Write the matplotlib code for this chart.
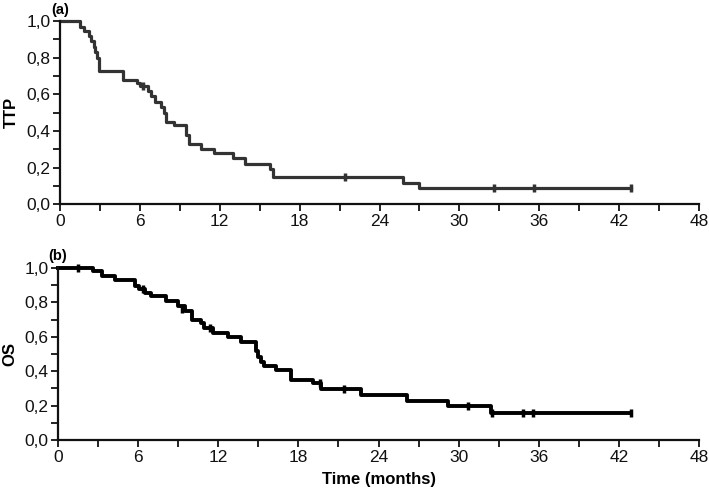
import matplotlib
matplotlib.use('Agg')
import matplotlib.pyplot as plt
from matplotlib.ticker import MultipleLocator, FuncFormatter

plt.rcParams['font.family'] = ['Liberation Sans', 'DejaVu Sans']

# TTP curve: step times (months) and survival after each step
ttp_time = [0, 1.5, 1.8, 2.2, 2.35, 2.55, 2.65, 2.75, 2.9, 4.75, 5.75, 6.0, 6.6,
            6.85, 7.1, 7.6, 7.85, 8.0, 8.6, 9.5, 9.7, 10.6, 11.6, 13.0, 13.9,
            15.8, 16.0, 25.75, 27.0, 42.9]
ttp_surv = [1.0, 0.97, 0.945, 0.92, 0.89, 0.86, 0.83, 0.80, 0.73, 0.68, 0.66, 0.645,
            0.62, 0.59, 0.56, 0.53, 0.50, 0.45, 0.43, 0.38, 0.33, 0.30, 0.28, 0.25,
            0.22, 0.19, 0.15, 0.115, 0.086, 0.086]
ttp_cens_time = [6.25, 21.4, 32.6, 35.6, 42.9]
ttp_cens_surv = [0.645, 0.15, 0.086, 0.086, 0.086]

# OS curve
os_time = [0, 2.65, 3.3, 4.3, 5.8, 6.1, 6.5, 7.0, 8.1, 9.0, 9.5, 10.0, 10.7, 10.9,
           11.6, 12.7, 13.7, 14.85, 15.0, 15.2, 15.4, 16.3, 17.45, 19.1, 19.7,
           22.7, 26.1, 29.2, 32.4, 42.9]
os_surv = [1.0, 0.98, 0.955, 0.93, 0.895, 0.875, 0.855, 0.835, 0.805, 0.78, 0.75,
           0.70, 0.68, 0.65, 0.62, 0.60, 0.567, 0.52, 0.485, 0.456, 0.43, 0.404,
           0.35, 0.33, 0.295, 0.263, 0.229, 0.20, 0.157, 0.157]
os_cens_time = [1.5, 6.4, 9.3, 11.4, 19.6, 21.4, 30.7, 32.5, 34.8, 35.6, 42.9]
os_cens_surv = [1.0, 0.875, 0.76, 0.65, 0.33, 0.295, 0.20, 0.157, 0.157, 0.157, 0.157]

x_ticks = [0, 6, 12, 18, 24, 30, 36, 42, 48]
y_ticks = [0.0, 0.2, 0.4, 0.6, 0.8, 1.0]

fig = plt.figure(figsize=(7.09, 4.93), dpi=100)
ax1 = fig.add_axes([0.0846, 0.586, 0.9014, 0.371])
ax2 = fig.add_axes([0.0818, 0.1075, 0.9042, 0.349])


def style(ax, ylabel, tag, tag_y):
    ax.set_xlim(0, 48)
    ax.set_ylim(0, 1.0)
    ax.set_xticks(x_ticks)
    ax.set_yticks(y_ticks)
    ax.xaxis.set_minor_locator(MultipleLocator(3))
    ax.yaxis.set_minor_locator(MultipleLocator(0.1))
    ax.yaxis.set_major_formatter(FuncFormatter(lambda v, p: f'{v:.1f}'.replace('.', ',')))
    for s in ['top', 'right']:
        ax.spines[s].set_visible(False)
    for s in ['left', 'bottom']:
        ax.spines[s].set_linewidth(1.6)
        ax.spines[s].set_color('#111111')
    ax.tick_params(which='both', direction='out', length=5, width=1.3,
                   labelsize=12.5, colors='#111111', pad=2)
    ax.set_ylabel(ylabel, fontsize=12, fontweight='bold', labelpad=5)
    ax.text(0.0, tag_y, tag, transform=ax.transAxes, fontsize=10.5,
            fontweight='bold', ha='center', va='center')


ax1.step(ttp_time, ttp_surv, where='post', color='#333333', lw=2.3, clip_on=False)
ax1.plot(ttp_cens_time, ttp_cens_surv, ls='none', marker='|', ms=5.5, mew=2.5,
         color='#333333', clip_on=False)
style(ax1, 'TTP', '(a)', 1.06)

ax2.step(os_time, os_surv, where='post', color='black', lw=2.8, clip_on=False)
ax2.plot(os_cens_time, os_cens_surv, ls='none', marker='|', ms=5.5, mew=2.5,
         color='black', clip_on=False)
style(ax2, 'OS', '(b)', 1.07)
ax2.set_xlabel('Time (months)', fontsize=12, fontweight='bold', labelpad=5)

fig.savefig('out.png', dpi=100)
